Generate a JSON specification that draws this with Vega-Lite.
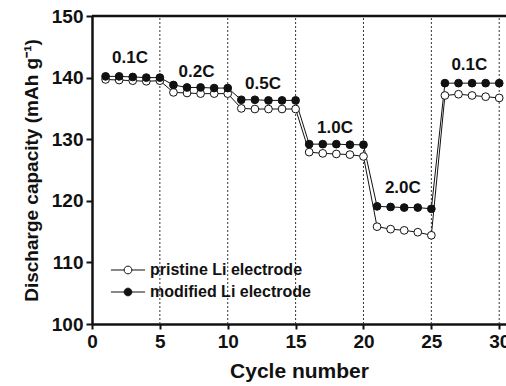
{
  "$schema": "https://vega.github.io/schema/vega-lite/v6.json",
  "autosize": "none",
  "width": 414,
  "height": 308,
  "padding": {"left": 92, "top": 16, "right": 0, "bottom": 62},
  "background": "white",
  "config": {
    "view": {"stroke": null},
    "font": "Liberation Sans",
    "axis": {
      "domainColor": "#111",
      "domainWidth": 2.5,
      "tickColor": "#111",
      "tickWidth": 2,
      "grid": false,
      "labelFont": "Liberation Sans",
      "labelFontWeight": "bold",
      "labelFontSize": 19,
      "labelColor": "#111",
      "titleFont": "Liberation Sans",
      "titleFontWeight": "bold",
      "titleFontSize": 19,
      "titleColor": "#111"
    }
  },
  "datasets": {
    "series": [
      {"cycle": 1, "capacity": 139.7, "electrode": "pristine Li electrode"},
      {"cycle": 2, "capacity": 139.6, "electrode": "pristine Li electrode"},
      {"cycle": 3, "capacity": 139.5, "electrode": "pristine Li electrode"},
      {"cycle": 4, "capacity": 139.4, "electrode": "pristine Li electrode"},
      {"cycle": 5, "capacity": 139.5, "electrode": "pristine Li electrode"},
      {"cycle": 6, "capacity": 137.6, "electrode": "pristine Li electrode"},
      {"cycle": 7, "capacity": 137.5, "electrode": "pristine Li electrode"},
      {"cycle": 8, "capacity": 137.4, "electrode": "pristine Li electrode"},
      {"cycle": 9, "capacity": 137.4, "electrode": "pristine Li electrode"},
      {"cycle": 10, "capacity": 137.4, "electrode": "pristine Li electrode"},
      {"cycle": 11, "capacity": 135.0, "electrode": "pristine Li electrode"},
      {"cycle": 12, "capacity": 134.9, "electrode": "pristine Li electrode"},
      {"cycle": 13, "capacity": 134.9, "electrode": "pristine Li electrode"},
      {"cycle": 14, "capacity": 134.9, "electrode": "pristine Li electrode"},
      {"cycle": 15, "capacity": 134.9, "electrode": "pristine Li electrode"},
      {"cycle": 16, "capacity": 127.9, "electrode": "pristine Li electrode"},
      {"cycle": 17, "capacity": 127.7, "electrode": "pristine Li electrode"},
      {"cycle": 18, "capacity": 127.6, "electrode": "pristine Li electrode"},
      {"cycle": 19, "capacity": 127.5, "electrode": "pristine Li electrode"},
      {"cycle": 20, "capacity": 127.2, "electrode": "pristine Li electrode"},
      {"cycle": 21, "capacity": 115.8, "electrode": "pristine Li electrode"},
      {"cycle": 22, "capacity": 115.4, "electrode": "pristine Li electrode"},
      {"cycle": 23, "capacity": 115.2, "electrode": "pristine Li electrode"},
      {"cycle": 24, "capacity": 114.9, "electrode": "pristine Li electrode"},
      {"cycle": 25, "capacity": 114.4, "electrode": "pristine Li electrode"},
      {"cycle": 26, "capacity": 137.1, "electrode": "pristine Li electrode"},
      {"cycle": 27, "capacity": 137.3, "electrode": "pristine Li electrode"},
      {"cycle": 28, "capacity": 137.1, "electrode": "pristine Li electrode"},
      {"cycle": 29, "capacity": 136.9, "electrode": "pristine Li electrode"},
      {"cycle": 30, "capacity": 136.7, "electrode": "pristine Li electrode"},
      {"cycle": 1, "capacity": 140.2, "electrode": "modified Li electrode"},
      {"cycle": 2, "capacity": 140.2, "electrode": "modified Li electrode"},
      {"cycle": 3, "capacity": 140.1, "electrode": "modified Li electrode"},
      {"cycle": 4, "capacity": 140.0, "electrode": "modified Li electrode"},
      {"cycle": 5, "capacity": 140.0, "electrode": "modified Li electrode"},
      {"cycle": 6, "capacity": 138.8, "electrode": "modified Li electrode"},
      {"cycle": 7, "capacity": 138.4, "electrode": "modified Li electrode"},
      {"cycle": 8, "capacity": 138.4, "electrode": "modified Li electrode"},
      {"cycle": 9, "capacity": 138.3, "electrode": "modified Li electrode"},
      {"cycle": 10, "capacity": 138.3, "electrode": "modified Li electrode"},
      {"cycle": 11, "capacity": 136.4, "electrode": "modified Li electrode"},
      {"cycle": 12, "capacity": 136.4, "electrode": "modified Li electrode"},
      {"cycle": 13, "capacity": 136.3, "electrode": "modified Li electrode"},
      {"cycle": 14, "capacity": 136.3, "electrode": "modified Li electrode"},
      {"cycle": 15, "capacity": 136.3, "electrode": "modified Li electrode"},
      {"cycle": 16, "capacity": 129.2, "electrode": "modified Li electrode"},
      {"cycle": 17, "capacity": 129.2, "electrode": "modified Li electrode"},
      {"cycle": 18, "capacity": 129.2, "electrode": "modified Li electrode"},
      {"cycle": 19, "capacity": 129.1, "electrode": "modified Li electrode"},
      {"cycle": 20, "capacity": 129.1, "electrode": "modified Li electrode"},
      {"cycle": 21, "capacity": 119.1, "electrode": "modified Li electrode"},
      {"cycle": 22, "capacity": 119.0, "electrode": "modified Li electrode"},
      {"cycle": 23, "capacity": 118.9, "electrode": "modified Li electrode"},
      {"cycle": 24, "capacity": 118.9, "electrode": "modified Li electrode"},
      {"cycle": 25, "capacity": 118.7, "electrode": "modified Li electrode"},
      {"cycle": 26, "capacity": 139.1, "electrode": "modified Li electrode"},
      {"cycle": 27, "capacity": 139.1, "electrode": "modified Li electrode"},
      {"cycle": 28, "capacity": 139.1, "electrode": "modified Li electrode"},
      {"cycle": 29, "capacity": 139.1, "electrode": "modified Li electrode"},
      {"cycle": 30, "capacity": 139.1, "electrode": "modified Li electrode"}
    ],
    "dividers": [
      {"cycle": 5}, {"cycle": 10}, {"cycle": 15}, {"cycle": 20}, {"cycle": 25}, {"cycle": 30}
    ],
    "rates": [
      {"cycle": 2.8, "capacity": 143.2, "label": "0.1C"},
      {"cycle": 7.7, "capacity": 140.9, "label": "0.2C"},
      {"cycle": 12.6, "capacity": 139.0, "label": "0.5C"},
      {"cycle": 17.9, "capacity": 131.8, "label": "1.0C"},
      {"cycle": 22.9, "capacity": 122.1, "label": "2.0C"},
      {"cycle": 27.8, "capacity": 142.0, "label": "0.1C"}
    ],
    "frame": [
      {"cycle": 0, "capacity": 100}
    ]
  },
  "layer": [
    {
      "data": {"name": "frame"},
      "mark": {"type": "point", "opacity": 0},
      "encoding": {
        "x": {
          "field": "cycle", "type": "quantitative",
          "scale": {"domain": [0, 30.5], "nice": false, "zero": false},
          "axis": {
            "title": "Cycle number",
            "titleFontSize": 21,
            "values": [0, 2.5, 5, 7.5, 10, 12.5, 15, 17.5, 20, 22.5, 25, 27.5, 30],
            "labelExpr": "datum.value % 5 === 0 ? datum.label : ''",
            "tickSize": 5,
            "labelPadding": 3,
            "titlePadding": 9,
            "labelFlush": false,
            "labelOverlap": false
          }
        },
        "y": {
          "field": "capacity", "type": "quantitative",
          "scale": {"domain": [100, 150], "nice": false, "zero": false},
          "axis": {
            "title": "Discharge capacity (mAh g⁻¹)",
            "values": [100, 105, 110, 115, 120, 125, 130, 135, 140, 145, 150],
            "labelExpr": "datum.value % 10 === 0 ? datum.label : ''",
            "tickSize": 6,
            "labelPadding": 3,
            "titlePadding": 10,
            "labelOverlap": false
          }
        }
      }
    },
    {
      "data": {"name": "dividers"},
      "mark": {"type": "rule", "color": "#333", "strokeWidth": 1, "strokeDash": [2, 2]},
      "encoding": {
        "x": {"field": "cycle", "type": "quantitative"},
        "y": {"datum": 100, "type": "quantitative"},
        "y2": {"datum": 150}
      }
    },
    {
      "data": {"name": "series"},
      "mark": {"type": "line", "color": "#111", "strokeWidth": 1},
      "encoding": {
        "x": {"field": "cycle", "type": "quantitative"},
        "y": {"field": "capacity", "type": "quantitative"},
        "detail": {"field": "electrode"}
      }
    },
    {
      "data": {"name": "series"},
      "mark": {"type": "point", "shape": "circle", "filled": true, "stroke": "#111", "strokeWidth": 1, "size": 60, "opacity": 1},
      "encoding": {
        "x": {"field": "cycle", "type": "quantitative"},
        "y": {"field": "capacity", "type": "quantitative"},
        "fill": {
          "field": "electrode",
          "type": "nominal",
          "scale": {"domain": ["pristine Li electrode", "modified Li electrode"], "range": ["white", "#111"]},
          "legend": {
            "orient": "none",
            "legendX": 28,
            "legendY": 246,
            "title": null,
            "padding": 0,
            "rowPadding": 6,
            "symbolType": "M -4.4 0 L -1 0 M 1 0 L 4.4 0 M -1 0 A 1 1 0 1 0 1 0 A 1 1 0 1 0 -1 0",
            "symbolSize": 60,
            "symbolStrokeColor": "#111",
            "symbolStrokeWidth": 1,
            "symbolOffset": 0,
            "labelOffset": 14,
            "labelFont": "Liberation Sans",
            "labelFontSize": 16,
            "labelFontWeight": "bold",
            "labelColor": "#111",
            "labelLimit": 300
          }
        }
      }
    },
    {
      "data": {"name": "rates"},
      "mark": {"type": "text", "font": "Liberation Sans", "fontWeight": "bold", "fontSize": 17, "color": "#111", "align": "center", "baseline": "middle"},
      "encoding": {
        "x": {"field": "cycle", "type": "quantitative"},
        "y": {"field": "capacity", "type": "quantitative"},
        "text": {"field": "label"}
      }
    },
    {
      "data": {"name": "frame"},
      "mark": {"type": "rule", "color": "#111", "strokeWidth": 2.5},
      "encoding": {
        "x": {"datum": 0, "type": "quantitative"},
        "x2": {"datum": 30.5},
        "y": {"datum": 150, "type": "quantitative"}
      }
    }
  ]
}
